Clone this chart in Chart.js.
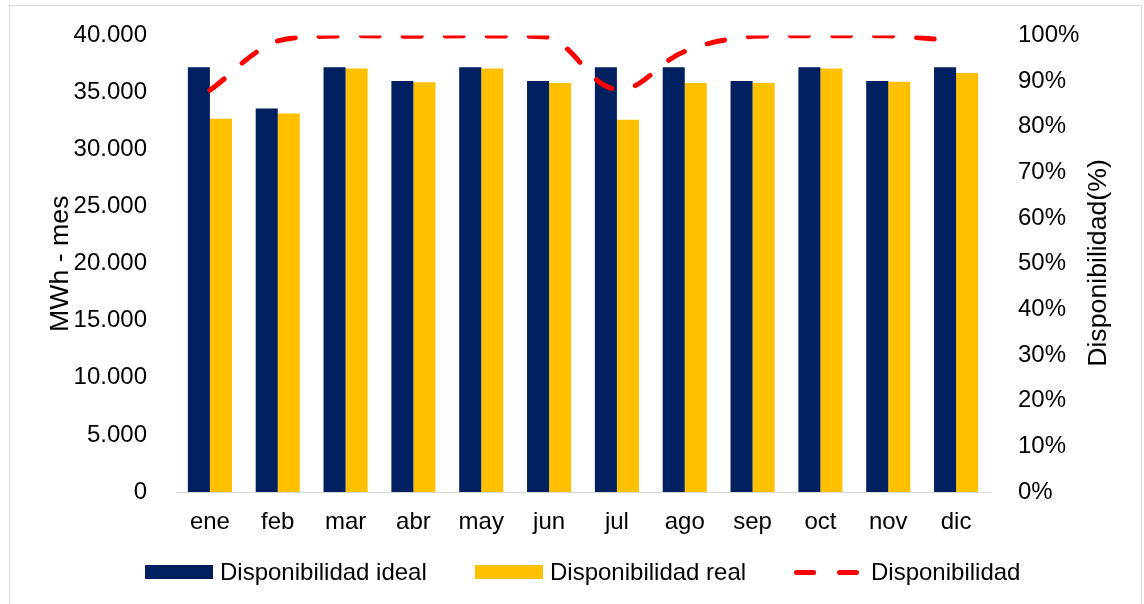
<!DOCTYPE html>
<html>
<head>
<meta charset="utf-8">
<script src="https://cdn.jsdelivr.net/npm/chart.js@4.4.1/dist/chart.umd.min.js"></script>
<style>
  html, body { margin: 0; padding: 0; background: #fff; }
  #wrap { position: relative; width: 1144px; height: 604px; overflow: hidden; font-family: 'Liberation Sans', Arial, sans-serif; }
  #c { position: absolute; left: 0; top: 0; }
  #frame { position: absolute; left: 9px; top: 5px; width: 1133px; height: 700px; border: 1px solid #d9d9d9; box-sizing: border-box; pointer-events: none; }
  .lg { position: absolute; top: 557px; height: 30px; display: flex; align-items: center; font-size: 24px; color: #000; white-space: nowrap; }
  .sw { display: inline-block; width: 68px; height: 14px; margin-right: 7px; }
  .dash { display: inline-block; width: 22px; height: 5px; border-radius: 3px; background: #ff0000; }
  #rtitle { position: absolute; left: 1097px; top: 263px; transform: translate(-50%, -50%) rotate(-90deg); font-size: 26.7px; color: #000; white-space: nowrap; line-height: 1; }
</style>
</head>
<body>
<div id="wrap">
  <canvas id="c" width="1144" height="604"></canvas>
  <div id="frame"></div>
  <div id="rtitle"></div>
  <div class="lg" style="left:145px"><span class="sw" style="background:#002060"></span><span id="lg0"></span></div>
  <div class="lg" style="left:475px"><span class="sw" style="background:#FFC000"></span><span id="lg1"></span></div>
  <div class="lg" style="left:794px"><span class="dash"></span><span class="dash" style="margin-left:21px;margin-right:12px"></span><span id="lg2"></span></div>
</div>
<script>
const categories = ['ene', 'feb', 'mar', 'abr', 'may', 'jun', 'jul', 'ago', 'sep', 'oct', 'nov', 'dic'];
const idealValues = [37200, 33600, 37200, 36000, 37200, 36000, 37200, 37200, 36000, 37200, 36000, 37200];
const realValues = [32700, 33150, 37100, 35890, 37090, 35825, 32620, 35835, 35825, 37110, 35940, 36700];
const availabilityPct = [88.0, 98.8, 99.9, 99.8, 99.9, 99.6, 88.2, 96.5, 99.8, 99.9, 99.9, 98.8];
const seriesNames = ['Disponibilidad ideal', 'Disponibilidad real', 'Disponibilidad'];
const leftAxisTitle = 'MWh - mes';
const rightAxisTitle = 'Disponibilidad(%)';

document.getElementById('lg0').textContent = seriesNames[0];
document.getElementById('lg1').textContent = seriesNames[1];
document.getElementById('lg2').textContent = seriesNames[2];
document.getElementById('rtitle').textContent = rightAxisTitle;

Chart.defaults.font.family = "'Liberation Sans', Arial, sans-serif";
Chart.defaults.color = '#000';

function fmtThousands(v) {
  return String(Math.round(v)).replace(/\B(?=(\d{3})+(?!\d))/g, '.');
}

new Chart(document.getElementById('c'), {
  type: 'bar',
  data: {
    labels: categories,
    datasets: [
      {
        type: 'line',
        label: seriesNames[2],
        data: availabilityPct,
        yAxisID: 'y1',
        borderColor: '#FF0000',
        backgroundColor: '#FF0000',
        borderWidth: 5,
        borderDash: [18, 24],
        borderCapStyle: 'round',
        pointRadius: 0,
        tension: 0.4,
        fill: false,
        order: 0
      },
      {
        label: seriesNames[0],
        data: idealValues,
        backgroundColor: '#002060',
        borderWidth: 0,
        barPercentage: 1.0,
        categoryPercentage: 0.65,
        yAxisID: 'y',
        order: 1
      },
      {
        label: seriesNames[1],
        data: realValues,
        backgroundColor: '#FFC000',
        borderWidth: 0,
        barPercentage: 1.0,
        categoryPercentage: 0.65,
        yAxisID: 'y',
        order: 1
      }
    ]
  },
  options: {
    responsive: false,
    animation: false,
    layout: { padding: { left: 41, right: 27, top: 35, bottom: 57 } },
    plugins: { legend: { display: false }, tooltip: { enabled: false } },
    scales: {
      x: {
        grid: { display: false },
        border: { display: true, color: '#d9d9d9', width: 1 },
        ticks: { font: { size: 24 }, color: '#000', padding: 8 },
        afterFit: (s) => { s.height = 55; }
      },
      y: {
        position: 'left',
        min: 0,
        max: 40000,
        grid: { display: false },
        border: { display: false },
        ticks: { stepSize: 5000, font: { size: 24 }, color: '#000', padding: 21, callback: (v) => fmtThousands(v) },
        title: { display: true, text: leftAxisTitle, font: { size: 26.7 }, color: '#000', padding: 4 },
        afterFit: (s) => { s.width = 135; }
      },
      y1: {
        position: 'right',
        min: 0,
        max: 100,
        grid: { display: false },
        border: { display: false },
        ticks: { stepSize: 10, font: { size: 24 }, color: '#000', padding: 20, callback: (v) => v + '%' },
        afterFit: (s) => { s.width = 127; }
      }
    }
  }
});
</script>
</body>
</html>
